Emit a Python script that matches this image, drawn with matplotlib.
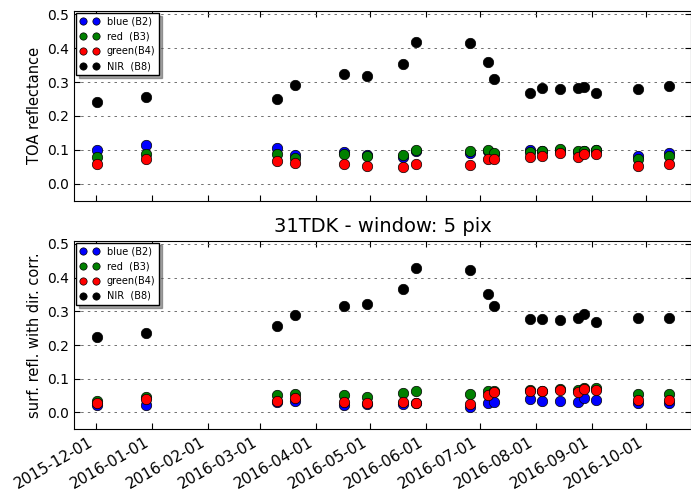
import matplotlib
matplotlib.use('Agg')
import matplotlib.pyplot as plt
import matplotlib.dates as mdates
import pandas as pd

#--- Acquisition dates (Sentinel-2, tile 31TDK)
dates = ['2015-12-01', '2015-12-28', '2016-03-10', '2016-03-20', '2016-04-16',
	'2016-04-29', '2016-05-19', '2016-05-26', '2016-06-25', '2016-07-05',
	'2016-07-08', '2016-07-28', '2016-08-04', '2016-08-14', '2016-08-24',
	'2016-08-27', '2016-09-03', '2016-09-26', '2016-10-13']

#--- TOA reflectance
toa_b2 = [0.098, 0.113, 0.106, 0.085, 0.092, 0.085, 0.078, 0.095, 0.090, 0.095,
	0.088, 0.098, 0.096, 0.100, 0.094, 0.096, 0.099, 0.083, 0.090]
toa_b3 = [0.078, 0.088, 0.088, 0.076, 0.088, 0.081, 0.085, 0.098, 0.096, 0.098,
	0.090, 0.093, 0.095, 0.101, 0.096, 0.097, 0.100, 0.074, 0.082]
toa_b4 = [0.057, 0.074, 0.068, 0.061, 0.059, 0.052, 0.049, 0.058, 0.055, 0.074,
	0.074, 0.080, 0.082, 0.089, 0.080, 0.086, 0.088, 0.051, 0.057]
toa_b8 = [0.240, 0.257, 0.251, 0.292, 0.324, 0.318, 0.354, 0.418, 0.416, 0.360,
	0.310, 0.269, 0.283, 0.280, 0.283, 0.286, 0.268, 0.280, 0.289]

#--- Surface reflectance with directional correction
sr_b2 = [0.021, 0.023, 0.030, 0.034, 0.023, 0.024, 0.024, 0.027, 0.016, 0.028,
	0.031, 0.040, 0.033, 0.034, 0.031, 0.042, 0.037, 0.027, 0.028]
sr_b3 = [0.035, 0.047, 0.052, 0.055, 0.053, 0.047, 0.058, 0.065, 0.055, 0.065,
	0.065, 0.066, 0.064, 0.070, 0.066, 0.072, 0.072, 0.055, 0.055]
sr_b4 = [0.028, 0.041, 0.034, 0.043, 0.032, 0.027, 0.031, 0.029, 0.024, 0.053,
	0.062, 0.064, 0.063, 0.066, 0.060, 0.069, 0.068, 0.037, 0.037]
sr_b8 = [0.224, 0.236, 0.256, 0.289, 0.315, 0.321, 0.366, 0.430, 0.424, 0.350,
	0.315, 0.277, 0.277, 0.274, 0.281, 0.292, 0.269, 0.281, 0.281]

band_labels = ['blue (B2)', 'red  (B3)', 'green(B4)', 'NIR  (B8)']
band_colors = ['blue', 'green', 'red', 'black']


def main():
	t = pd.to_datetime(dates) + pd.Timedelta(hours=10, minutes=50)

	fig = plt.figure(figsize=(6.91, 4.94), dpi=100)
	ax1 = fig.add_axes([0.107, 0.594, 0.893, 0.384])
	ax2 = fig.add_axes([0.107, 0.131, 0.893, 0.382])

	plot_bands(ax1, t, [toa_b2, toa_b3, toa_b4, toa_b8])
	plot_bands(ax2, t, [sr_b2, sr_b3, sr_b4, sr_b8])

	ax1.set_ylabel('TOA reflectance', fontsize=10.5)
	ax2.set_ylabel('surf. refl. with dir. corr.', fontsize=10.5)
	ax2.set_title('31TDK - window: 5 pix', fontsize=14, pad=6)

	plt.setp(ax1.get_xticklabels(), visible=False)
	for lab in ax2.get_xticklabels():
		lab.set_rotation(30)
		lab.set_ha('right')
		lab.set_fontsize(11)

	fig.savefig('out.png', dpi=100)


def plot_bands(ax, t, series):
	for vals, lab, col in zip(series, band_labels, band_colors):
		ax.plot(t, vals, 'o', color=col, markeredgecolor='black', markeredgewidth=0.5,
			markersize=7.5, label=lab)

	#--- Axes limits and ticks
	ax.set_xlim(pd.Timestamp('2015-11-18 18:00'), pd.Timestamp('2016-10-25 22:00'))
	ax.set_ylim(-0.05, 0.51)
	ax.set_yticks([0.0, 0.1, 0.2, 0.3, 0.4, 0.5])
	ax.xaxis.set_major_locator(mdates.MonthLocator())
	ax.xaxis.set_major_formatter(mdates.DateFormatter('%Y-%m-%d'))
	ax.tick_params(direction='in', top=True, right=True, length=4, labelsize=10)
	ax.yaxis.grid(True, linestyle=(0, (3, 5)), color='0.35', linewidth=0.6)

	leg = ax.legend(loc='upper left', numpoints=2, fontsize=7, shadow=True,
		fancybox=False, markerscale=0.7, handlelength=1.95, handletextpad=0.8,
		borderaxespad=0.2, labelspacing=0.5, borderpad=0.4, framealpha=1)
	leg.get_frame().set_edgecolor('black')


if __name__ == '__main__':
	main()
